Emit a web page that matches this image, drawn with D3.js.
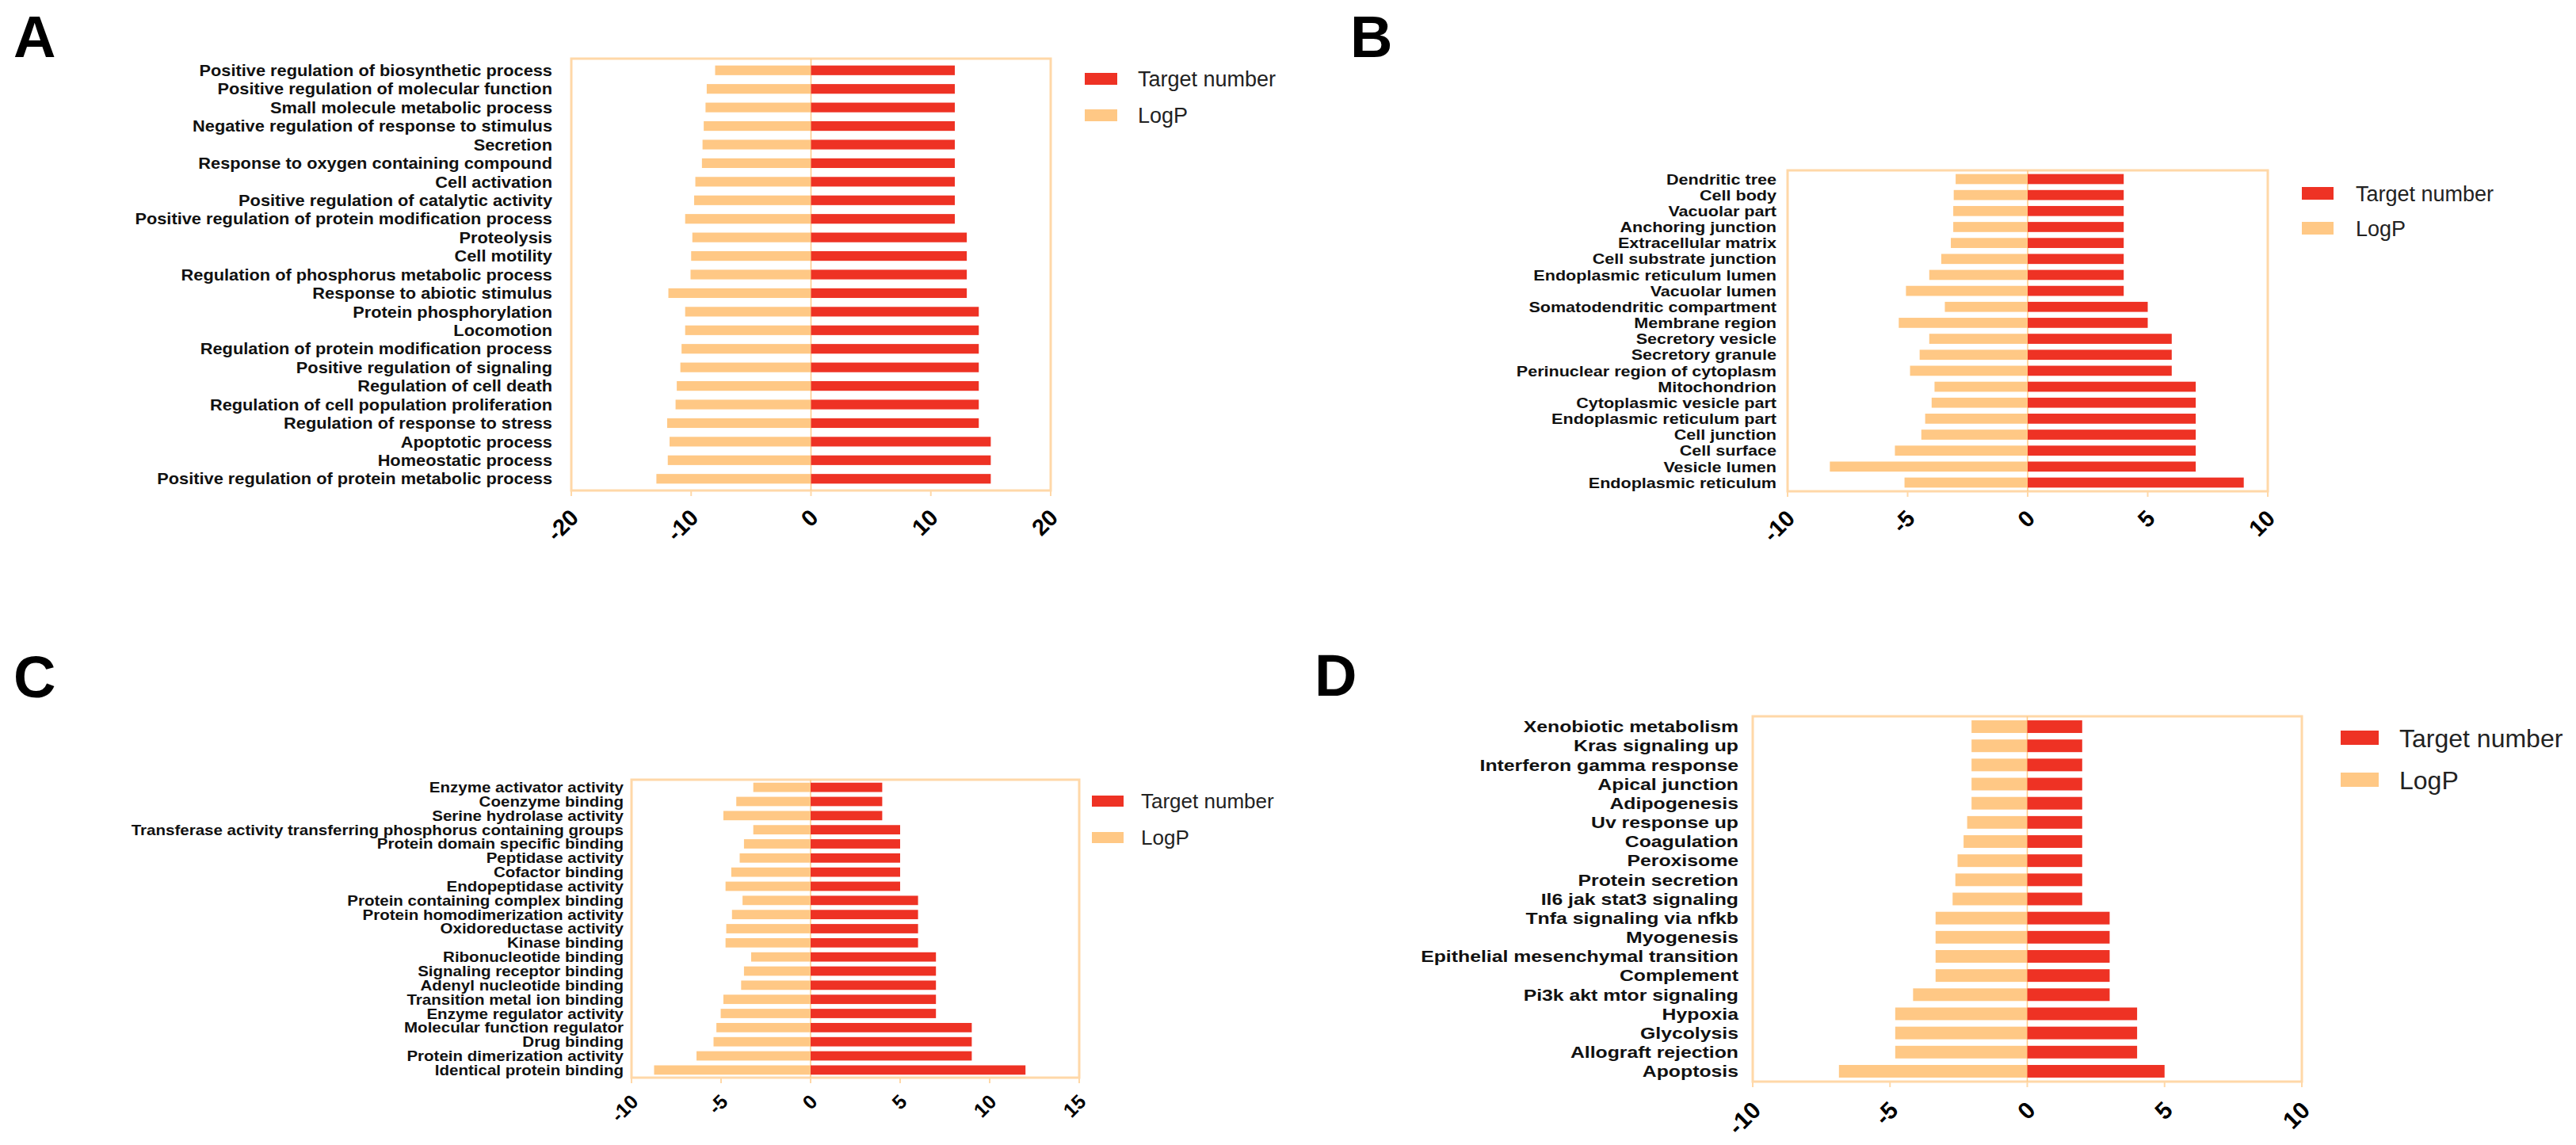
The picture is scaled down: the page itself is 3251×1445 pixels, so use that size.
<!DOCTYPE html>
<html>
<head>
<meta charset="utf-8">
<script src="https://cdn.jsdelivr.net/npm/d3@7"></script>
<style>
  body { margin: 0; background: #fff; }
  text { font-family: "Liberation Sans", Arial, sans-serif; }
</style>
</head>
<body>
<script>
// ---- data ----
const catsA = [
    "Positive regulation of biosynthetic process", "Positive regulation of molecular function",
    "Small molecule metabolic process", "Negative regulation of response to stimulus", "Secretion",
    "Response to oxygen containing compound", "Cell activation", "Positive regulation of catalytic activity",
    "Positive regulation of protein modification process", "Proteolysis", "Cell motility",
    "Regulation of phosphorus metabolic process", "Response to abiotic stimulus", "Protein phosphorylation",
    "Locomotion", "Regulation of protein modification process", "Positive regulation of signaling",
    "Regulation of cell death", "Regulation of cell population proliferation", "Regulation of response to stress",
    "Apoptotic process", "Homeostatic process", "Positive regulation of protein metabolic process"];
const targetA = [12, 12, 12, 12, 12, 12, 12, 12, 12, 13, 13, 13, 13, 14, 14, 14, 14, 14, 14, 14, 15, 15, 15];
const logpA = [-8.0, -8.7, -8.8, -8.95, -9.05, -9.1, -9.65, -9.75, -10.5, -9.9, -10.0, -10.05, -11.9,
    -10.5, -10.5, -10.8, -10.9, -11.2, -11.3, -12.0, -11.8, -11.95, -12.9];
const ticksA = [-20, -10, 0, 10, 20];

const catsB = [
    "Dendritic tree", "Cell body", "Vacuolar part", "Anchoring junction", "Extracellular matrix",
    "Cell substrate junction", "Endoplasmic reticulum lumen", "Vacuolar lumen", "Somatodendritic compartment",
    "Membrane region", "Secretory vesicle", "Secretory granule", "Perinuclear region of cytoplasm",
    "Mitochondrion", "Cytoplasmic vesicle part", "Endoplasmic reticulum part", "Cell junction",
    "Cell surface", "Vesicle lumen", "Endoplasmic reticulum"];
const targetB = [4, 4, 4, 4, 4, 4, 4, 4, 5, 5, 6, 6, 6, 7, 7, 7, 7, 7, 7, 9];
const logpB = [-3.0, -3.08, -3.1, -3.1, -3.2, -3.6, -4.1, -5.07, -3.45, -5.37, -4.1, -4.5, -4.9,
    -3.88, -4.0, -4.27, -4.43, -5.53, -8.24, -5.13];
const ticksB = [-10, -5, 0, 5, 10];

const catsC = [
    "Enzyme activator activity", "Coenzyme binding", "Serine hydrolase activity",
    "Transferase activity transferring phosphorus containing groups", "Protein domain specific binding",
    "Peptidase activity", "Cofactor binding", "Endopeptidase activity", "Protein containing complex binding",
    "Protein homodimerization activity", "Oxidoreductase activity", "Kinase binding", "Ribonucleotide binding",
    "Signaling receptor binding", "Adenyl nucleotide binding", "Transition metal ion binding",
    "Enzyme regulator activity", "Molecular function regulator", "Drug binding",
    "Protein dimerization activity", "Identical protein binding"];
const targetC = [4, 4, 4, 5, 5, 5, 5, 5, 6, 6, 6, 6, 7, 7, 7, 7, 7, 9, 9, 9, 12];
const logpC = [-3.2, -4.15, -4.87, -3.2, -3.72, -3.96, -4.43, -4.75, -3.8, -4.39, -4.71, -4.75, -3.32,
    -3.72, -3.88, -4.87, -5.02, -5.26, -5.42, -6.37, -8.74];
const ticksC = [-10, -5, 0, 5, 10, 15];

const catsD = [
    "Xenobiotic metabolism", "Kras signaling up", "Interferon gamma response", "Apical junction",
    "Adipogenesis", "Uv response up", "Coagulation", "Peroxisome", "Protein secretion",
    "Il6 jak stat3 signaling", "Tnfa signaling via nfkb", "Myogenesis", "Epithelial mesenchymal transition",
    "Complement", "Pi3k akt mtor signaling", "Hypoxia", "Glycolysis", "Allograft rejection", "Apoptosis"];
const targetD = [2, 2, 2, 2, 2, 2, 2, 2, 2, 2, 3, 3, 3, 3, 3, 4, 4, 4, 5];
const logpD = [-2.03, -2.03, -2.03, -2.03, -2.03, -2.19, -2.32, -2.54, -2.62, -2.72, -3.34, -3.34,
    -3.34, -3.34, -4.16, -4.81, -4.81, -4.81, -6.86];
const ticksD = [-10, -5, 0, 5, 10];

const seriesNames = ["Target number", "LogP"];

// ---- look ----
const width = 3251;
const height = 1445;
const red = "#EE3224";
const orange = "#FFC885";
const frame = "#FFD8A8";

const svg = d3.select("body")
    .append("svg")
    .attr("width", width)
    .attr("height", height);

// layout of each panel (pixels), data hooked on from the arrays above
const panels = [
    {letter: "A", lx: 17, ly: 72, cats: catsA, target: targetA, logp: logpA, ticks: ticksA,
     x0: 721, x1: 1326, y0: 74, y1: 619, pi: 0.48, po: 0.37,
     fs: 20, sx: 1.09, gap: 24, tickFs: 29, tdx: 11, tdy: 36,
     leg: {x: 1369, y: 92, w: 41, h: 15, step: 46, tx: 1436, fs: 27}},
    {letter: "B", lx: 1704, ly: 72, cats: catsB, target: targetB, logp: logpB, ticks: ticksB,
     x0: 2256, x1: 2862, y0: 215, y1: 620, pi: 0.37, po: 0.23,
     fs: 18.6, sx: 1.16, gap: 14, tickFs: 29, tdx: 11, tdy: 36,
     leg: {x: 2905, y: 236, w: 40, h: 16, step: 44, tx: 2973, fs: 27}},
    {letter: "C", lx: 17, ly: 880, cats: catsC, target: targetC, logp: logpC, ticks: ticksC,
     x0: 797, x1: 1362, y0: 984, y1: 1360, pi: 0.34, po: 0.21,
     fs: 18, sx: 1.14, gap: 10, tickFs: 25, tdx: 10, tdy: 32,
     leg: {x: 1378, y: 1004, w: 40, h: 14, step: 46, tx: 1440, fs: 26}},
    {letter: "D", lx: 1659, ly: 878, cats: catsD, target: targetD, logp: logpD, ticks: ticksD,
     x0: 2212, x1: 2905, y0: 904, y1: 1365, pi: 0.34, po: 0.21,
     fs: 20, sx: 1.24, gap: 18, tickFs: 30, tdx: 12, tdy: 38,
     leg: {x: 2954, y: 922, w: 48, h: 18, step: 53, tx: 3028, fs: 32}}
];

panels.forEach(drawPanel);

function drawPanel(p) {
    const x = d3.scaleLinear()
        .domain([p.ticks[0], p.ticks[p.ticks.length - 1]])
        .range([p.x0, p.x1]);
    const y = d3.scaleBand()
        .domain(p.cats)
        .range([p.y0, p.y1])
        .paddingInner(p.pi)
        .paddingOuter(p.po);

    const g = svg.append("g");

    // panel letter
    g.append("text")
        .attr("x", p.lx)
        .attr("y", p.ly)
        .style("font-size", "74px")
        .style("font-weight", "bold")
        .text(p.letter);

    // frame and zero line
    g.append("rect")
        .attr("x", p.x0).attr("y", p.y0)
        .attr("width", p.x1 - p.x0).attr("height", p.y1 - p.y0)
        .style("fill", "none")
        .style("stroke", frame)
        .style("stroke-width", "3px");
    g.append("line")
        .attr("x1", x(0)).attr("x2", x(0))
        .attr("y1", p.y0).attr("y2", p.y1)
        .style("stroke", orange)
        .style("stroke-width", "1.5px");

    // bars: LogP to the left, target number to the right
    const rows = p.cats.map((c, i) => ({cat: c, target: p.target[i], logp: p.logp[i]}));
    g.selectAll("rect.logp")
        .data(rows)
      .enter().append("rect")
        .attr("class", "logp")
        .attr("x", d => x(d.logp))
        .attr("y", d => y(d.cat))
        .attr("width", d => x(0) - x(d.logp))
        .attr("height", y.bandwidth())
        .style("fill", orange);
    g.selectAll("rect.target")
        .data(rows)
      .enter().append("rect")
        .attr("class", "target")
        .attr("x", x(0))
        .attr("y", d => y(d.cat))
        .attr("width", d => x(d.target) - x(0))
        .attr("height", y.bandwidth())
        .style("fill", red);

    // category labels (the figure's text is a bit stretched sideways)
    g.selectAll("text.cat")
        .data(rows)
      .enter().append("text")
        .attr("class", "cat")
        .attr("transform", d => `translate(${p.x0 - p.gap},${y(d.cat) + y.bandwidth() / 2}) scale(${p.sx},1)`)
        .attr("dy", "0.36em")
        .attr("text-anchor", "end")
        .style("font-size", p.fs + "px")
        .style("font-weight", "bold")
        .style("fill", "#111")
        .text(d => d.cat);

    // x ticks, rotated labels
    g.selectAll("line.tick")
        .data(p.ticks)
      .enter().append("line")
        .attr("class", "tick")
        .attr("x1", d => x(d)).attr("x2", d => x(d))
        .attr("y1", p.y1).attr("y2", p.y1 + 7)
        .style("stroke", frame)
        .style("stroke-width", "2px");
    g.selectAll("text.tick")
        .data(p.ticks)
      .enter().append("text")
        .attr("class", "tick")
        .attr("transform", d => `translate(${x(d) + p.tdx},${p.y1 + p.tdy}) rotate(-45)`)
        .attr("text-anchor", "end")
        .style("font-size", p.tickFs + "px")
        .style("font-weight", "bold")
        .text(d => d);

    // legend
    const legColors = [red, orange];
    seriesNames.forEach((name, i) => {
        g.append("rect")
            .attr("x", p.leg.x)
            .attr("y", p.leg.y + i * p.leg.step)
            .attr("width", p.leg.w)
            .attr("height", p.leg.h)
            .style("fill", legColors[i]);
        g.append("text")
            .attr("x", p.leg.tx)
            .attr("y", p.leg.y + i * p.leg.step + p.leg.h / 2)
            .attr("dy", "0.36em")
            .style("font-size", p.leg.fs + "px")
            .style("fill", "#222")
            .text(name);
    });
}
</script>
</body>
</html>
